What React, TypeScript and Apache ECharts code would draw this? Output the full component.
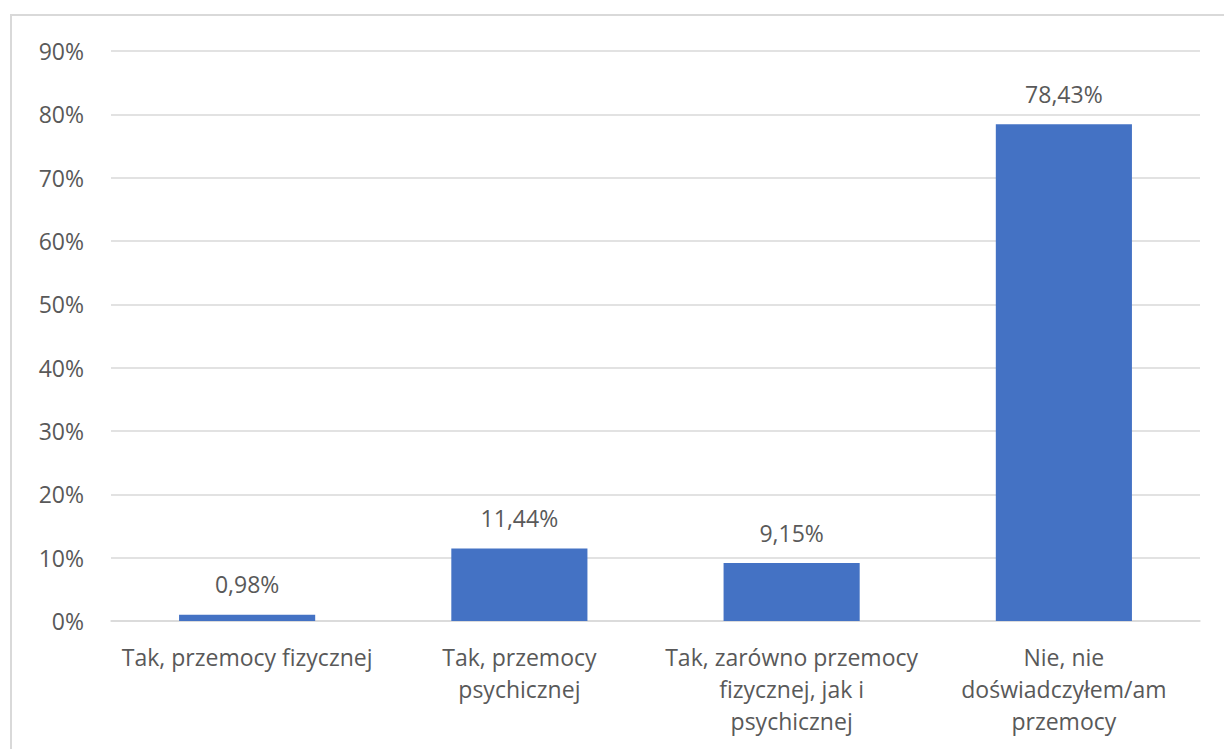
import React, { useEffect, useRef } from "react";
import * as echarts from "echarts";

const categories = [
  "Tak, przemocy fizycznej",
  "Tak, przemocy\npsychicznej",
  "Tak, zarówno przemocy\nfizycznej, jak i\npsychicznej",
  "Nie, nie\ndoświadczyłem/am\nprzemocy",
];
const values = [0.98, 11.44, 9.15, 78.43];
const yMin = 0;
const yMax = 90;
const yInterval = 10;

const FONT = "'Open Sans', sans-serif";
const TEXT = "#595959";

export default function App() {
  const ref = useRef<HTMLDivElement>(null);
  useEffect(() => {
    if (!ref.current) return;
    const chart = echarts.init(ref.current, undefined, { renderer: "svg" });
    chart.setOption({
      animation: false,
      backgroundColor: "#ffffff",
      graphic: [
        {
          type: "rect",
          shape: { x: 11, y: 15, width: 1240, height: 780 },
          style: { fill: "none", stroke: "#d9d9d9", lineWidth: 2 },
          silent: true,
        },
      ],
      grid: { left: 111, right: 24, top: 51, bottom: 128, containLabel: false },
      xAxis: {
        type: "category",
        data: categories,
        axisLine: { show: true, lineStyle: { color: "#d9d9d9", width: 1.5 } },
        axisTick: { show: false },
        axisLabel: {
          interval: 0,
          color: TEXT,
          fontFamily: FONT,
          fontSize: 23,
          lineHeight: 32,
          margin: 20,
        },
      },
      yAxis: {
        type: "value",
        min: yMin,
        max: yMax,
        interval: yInterval,
        axisLine: { show: false },
        axisTick: { show: false },
        splitLine: { lineStyle: { color: "#d9d9d9", width: 1.5 } },
        axisLabel: {
          color: TEXT,
          fontFamily: FONT,
          fontSize: 23,
          margin: 27,
          formatter: (v: number) => `${v}%`,
        },
      },
      series: [
        {
          type: "bar",
          data: values,
          barWidth: "50%",
          itemStyle: { color: "#4472C4" },
          label: {
            show: true,
            position: "top",
            distance: 19,
            color: TEXT,
            fontFamily: FONT,
            fontSize: 23,
            formatter: (p: any) => `${p.value.toFixed(2).replace(".", ",")}%`,
          },
        },
      ],
    });
    return () => chart.dispose();
  }, []);
  return (
    <div
      ref={ref}
      style={{ position: "fixed", left: 0, top: 0, width: 1224, height: 749 }}
    />
  );
}
